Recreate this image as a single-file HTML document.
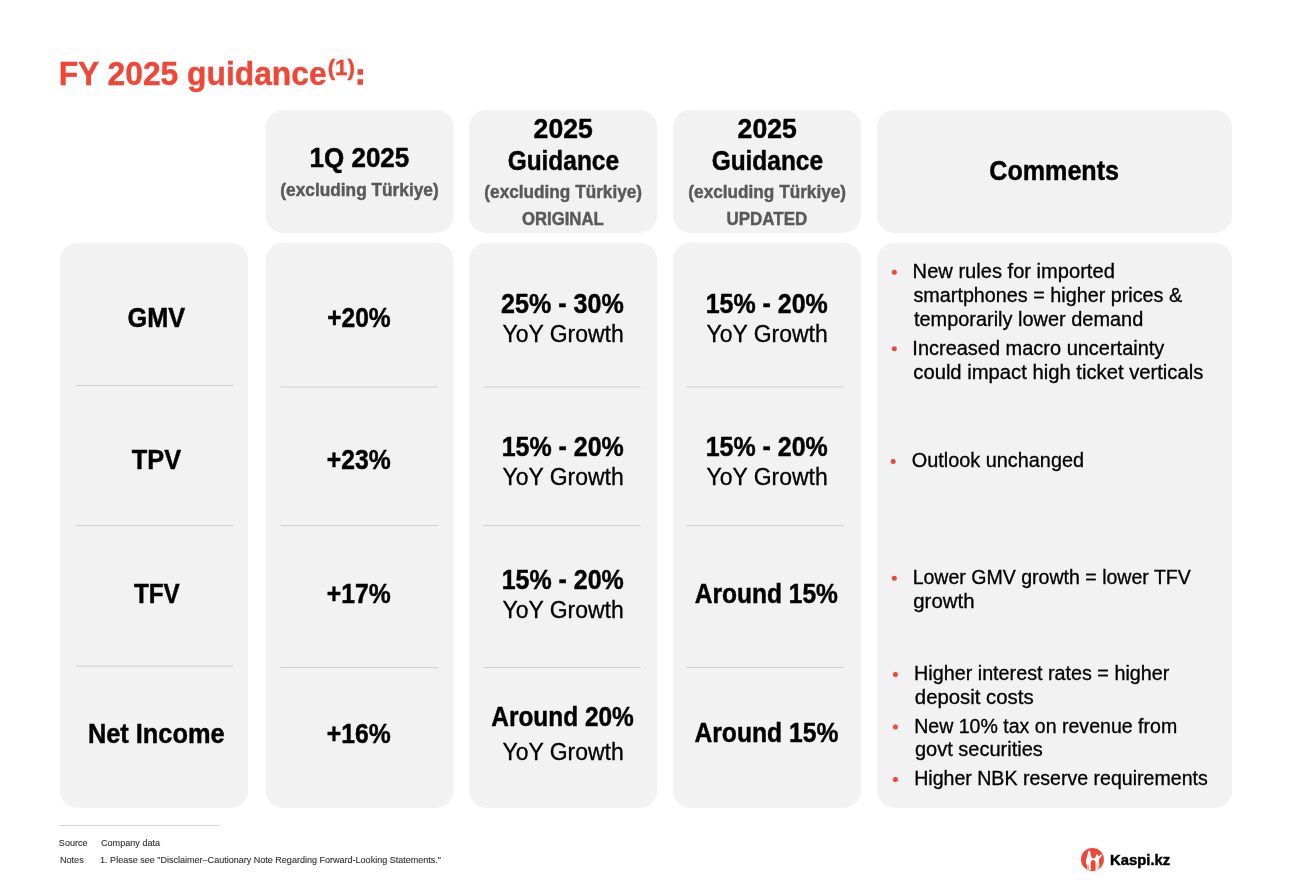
<!DOCTYPE html>
<html><head><meta charset="utf-8"><title>FY 2025 guidance</title>
<style>
html,body{margin:0;padding:0;background:#fff;}
body{width:1296px;height:895px;position:relative;overflow:hidden;font-family:"Liberation Sans",sans-serif;color:#000;}
svg.tx{position:absolute;left:0;top:0;}
svg.tx text{font-family:"Liberation Sans",sans-serif;white-space:pre;}
</style></head><body>
<svg class="tx" width="1296" height="895" viewBox="0 0 1296 895">
<rect x="265.6" y="109.8" width="188.0" height="123.1" rx="17.5" fill="#f2f2f2"/>
<rect x="469.0" y="109.8" width="188.2" height="123.1" rx="17.5" fill="#f2f2f2"/>
<rect x="673.0" y="109.8" width="188.2" height="123.1" rx="17.5" fill="#f2f2f2"/>
<rect x="876.8" y="109.8" width="355.3" height="123.1" rx="17.5" fill="#f2f2f2"/>
<rect x="59.9" y="242.8" width="188.2" height="565.1" rx="17.5" fill="#f2f2f2"/>
<rect x="265.6" y="242.8" width="188.0" height="565.1" rx="17.5" fill="#f2f2f2"/>
<rect x="469.0" y="242.8" width="188.2" height="565.1" rx="17.5" fill="#f2f2f2"/>
<rect x="673.0" y="242.8" width="188.2" height="565.1" rx="17.5" fill="#f2f2f2"/>
<rect x="876.8" y="242.8" width="355.3" height="565.1" rx="17.5" fill="#f2f2f2"/>
<rect x="75.7" y="385" width="157.5" height="1" fill="#d0d0d0"/>
<rect x="75.7" y="525" width="157.5" height="1" fill="#d0d0d0"/>
<rect x="75.7" y="665.6" width="157.5" height="1" fill="#d0d0d0"/>
<rect x="280.8" y="386.6" width="157.2" height="1" fill="#d0d0d0"/>
<rect x="280.8" y="525" width="157.2" height="1" fill="#d0d0d0"/>
<rect x="280.8" y="667" width="157.2" height="1" fill="#d0d0d0"/>
<rect x="483.2" y="386.5" width="157.6" height="1" fill="#d0d0d0"/>
<rect x="483.2" y="525" width="157.6" height="1" fill="#d0d0d0"/>
<rect x="483.2" y="667" width="157.6" height="1" fill="#d0d0d0"/>
<rect x="686.1" y="386.5" width="157.7" height="1" fill="#d0d0d0"/>
<rect x="686.1" y="525" width="157.7" height="1" fill="#d0d0d0"/>
<rect x="686.1" y="667" width="157.7" height="1" fill="#d0d0d0"/>
<rect x="59.2" y="825" width="160.8" height="1" fill="#d9d9d9"/>
<circle cx="894.3" cy="272.2" r="2.5" fill="#f04635"/>
<circle cx="894.3" cy="348.8" r="2.5" fill="#f04635"/>
<circle cx="893.2" cy="461.4" r="2.5" fill="#f04635"/>
<circle cx="894.3" cy="578.2" r="2.5" fill="#f04635"/>
<circle cx="895.4" cy="674.4" r="2.5" fill="#f04635"/>
<circle cx="895.4" cy="726.9" r="2.5" fill="#f04635"/>
<circle cx="895.4" cy="779.4" r="2.5" fill="#f04635"/>
</svg>
<svg class="tx" width="1296" height="895" viewBox="0 0 1296 895">
<text id="title" fill="#f04635" stroke="#f04635" stroke-width="0.4" font-weight="bold" font-size="34"><tspan x="58.70" y="84.8" textLength="267.90" lengthAdjust="spacingAndGlyphs">FY 2025 guidance</tspan><tspan x="327.70" y="74.7" font-size="22.3" textLength="27.29" lengthAdjust="spacingAndGlyphs">(1)</tspan><tspan x="355.64" y="83.5" font-size="27" stroke-width="1.7">:</tspan></text>
<text x="309.55" y="167.0" font-size="27.5" font-weight="bold" fill="#000" stroke="#000" stroke-width="0.45" textLength="99.72" lengthAdjust="spacingAndGlyphs">1Q 2025</text>
<text x="280.34" y="195.8" font-size="18.6" font-weight="bold" fill="#595959" stroke="#595959" stroke-width="0.45" textLength="158.39" lengthAdjust="spacingAndGlyphs">(excluding Türkiye)</text>
<text x="533.62" y="138.0" font-size="27.5" font-weight="bold" fill="#000" stroke="#000" stroke-width="0.45" textLength="59.12" lengthAdjust="spacingAndGlyphs">2025</text>
<text x="507.63" y="169.7" font-size="27.5" font-weight="bold" fill="#000" stroke="#000" stroke-width="0.45" textLength="111.40" lengthAdjust="spacingAndGlyphs">Guidance</text>
<text x="484.34" y="198.4" font-size="18.6" font-weight="bold" fill="#595959" stroke="#595959" stroke-width="0.45" textLength="157.74" lengthAdjust="spacingAndGlyphs">(excluding Türkiye)</text>
<text x="522.01" y="224.8" font-size="18.6" font-weight="bold" fill="#595959" stroke="#595959" stroke-width="0.45" textLength="81.74" lengthAdjust="spacingAndGlyphs">ORIGINAL</text>
<text x="737.62" y="138.0" font-size="27.5" font-weight="bold" fill="#000" stroke="#000" stroke-width="0.45" textLength="59.12" lengthAdjust="spacingAndGlyphs">2025</text>
<text x="711.63" y="169.7" font-size="27.5" font-weight="bold" fill="#000" stroke="#000" stroke-width="0.45" textLength="111.40" lengthAdjust="spacingAndGlyphs">Guidance</text>
<text x="688.34" y="198.4" font-size="18.6" font-weight="bold" fill="#595959" stroke="#595959" stroke-width="0.45" textLength="157.74" lengthAdjust="spacingAndGlyphs">(excluding Türkiye)</text>
<text x="726.60" y="224.8" font-size="18.6" font-weight="bold" fill="#595959" stroke="#595959" stroke-width="0.45" textLength="80.61" lengthAdjust="spacingAndGlyphs">UPDATED</text>
<text x="989.32" y="180.1" font-size="27.5" font-weight="bold" fill="#000" stroke="#000" stroke-width="0.45" textLength="129.71" lengthAdjust="spacingAndGlyphs">Comments</text>
<text x="127.55" y="327.0" font-size="27.5" font-weight="bold" fill="#000" stroke="#000" stroke-width="0.45" textLength="57.67" lengthAdjust="spacingAndGlyphs">GMV</text>
<text x="131.87" y="469.0" font-size="27.5" font-weight="bold" fill="#000" stroke="#000" stroke-width="0.45" textLength="49.23" lengthAdjust="spacingAndGlyphs">TPV</text>
<text x="133.95" y="602.6" font-size="27.5" font-weight="bold" fill="#000" stroke="#000" stroke-width="0.45" textLength="45.83" lengthAdjust="spacingAndGlyphs">TFV</text>
<text x="87.88" y="743.2" font-size="27.5" font-weight="bold" fill="#000" stroke="#000" stroke-width="0.45" textLength="136.71" lengthAdjust="spacingAndGlyphs">Net Income</text>
<text x="327.13" y="327.4" font-size="27.5" font-weight="bold" fill="#000" stroke="#000" stroke-width="0.45" textLength="63.56" lengthAdjust="spacingAndGlyphs">+20%</text>
<text x="326.75" y="469.0" font-size="27.5" font-weight="bold" fill="#000" stroke="#000" stroke-width="0.45" textLength="63.89" lengthAdjust="spacingAndGlyphs">+23%</text>
<text x="326.75" y="603.0" font-size="27.5" font-weight="bold" fill="#000" stroke="#000" stroke-width="0.45" textLength="63.89" lengthAdjust="spacingAndGlyphs">+17%</text>
<text x="326.75" y="743.2" font-size="27.5" font-weight="bold" fill="#000" stroke="#000" stroke-width="0.45" textLength="63.89" lengthAdjust="spacingAndGlyphs">+16%</text>
<text x="501.00" y="313.2" font-size="27.5" font-weight="bold" fill="#000" stroke="#000" stroke-width="0.45" textLength="122.73" lengthAdjust="spacingAndGlyphs">25% - 30%</text>
<text x="502.45" y="341.7" font-size="23.5" font-weight="normal" fill="#000" stroke="#000" stroke-width="0.3" textLength="121.22" lengthAdjust="spacingAndGlyphs">YoY Growth</text>
<text x="501.68" y="456.3" font-size="27.5" font-weight="bold" fill="#000" stroke="#000" stroke-width="0.45" textLength="122.15" lengthAdjust="spacingAndGlyphs">15% - 20%</text>
<text x="502.45" y="484.8" font-size="23.5" font-weight="normal" fill="#000" stroke="#000" stroke-width="0.3" textLength="121.22" lengthAdjust="spacingAndGlyphs">YoY Growth</text>
<text x="501.68" y="589.2" font-size="27.5" font-weight="bold" fill="#000" stroke="#000" stroke-width="0.45" textLength="122.15" lengthAdjust="spacingAndGlyphs">15% - 20%</text>
<text x="502.45" y="617.7" font-size="23.5" font-weight="normal" fill="#000" stroke="#000" stroke-width="0.3" textLength="121.22" lengthAdjust="spacingAndGlyphs">YoY Growth</text>
<text x="491.24" y="726.0" font-size="27.5" font-weight="bold" fill="#000" stroke="#000" stroke-width="0.45" textLength="142.63" lengthAdjust="spacingAndGlyphs">Around 20%</text>
<text x="502.45" y="760.2" font-size="23.5" font-weight="normal" fill="#000" stroke="#000" stroke-width="0.3" textLength="121.22" lengthAdjust="spacingAndGlyphs">YoY Growth</text>
<text x="705.68" y="313.2" font-size="27.5" font-weight="bold" fill="#000" stroke="#000" stroke-width="0.45" textLength="122.15" lengthAdjust="spacingAndGlyphs">15% - 20%</text>
<text x="706.45" y="341.7" font-size="23.5" font-weight="normal" fill="#000" stroke="#000" stroke-width="0.3" textLength="121.22" lengthAdjust="spacingAndGlyphs">YoY Growth</text>
<text x="705.68" y="456.3" font-size="27.5" font-weight="bold" fill="#000" stroke="#000" stroke-width="0.45" textLength="122.15" lengthAdjust="spacingAndGlyphs">15% - 20%</text>
<text x="706.45" y="484.8" font-size="23.5" font-weight="normal" fill="#000" stroke="#000" stroke-width="0.3" textLength="121.22" lengthAdjust="spacingAndGlyphs">YoY Growth</text>
<text x="694.74" y="602.5" font-size="27.5" font-weight="bold" fill="#000" stroke="#000" stroke-width="0.45" textLength="143.21" lengthAdjust="spacingAndGlyphs">Around 15%</text>
<text x="694.47" y="741.5" font-size="27.5" font-weight="bold" fill="#000" stroke="#000" stroke-width="0.45" textLength="143.85" lengthAdjust="spacingAndGlyphs">Around 15%</text>
<text x="912.61" y="277.8" font-size="19.3" font-weight="normal" fill="#000" stroke="#000" stroke-width="0.3" textLength="202.20" lengthAdjust="spacingAndGlyphs">New rules for imported</text>
<text x="913.46" y="301.9" font-size="19.3" font-weight="normal" fill="#000" stroke="#000" stroke-width="0.3" textLength="268.69" lengthAdjust="spacingAndGlyphs">smartphones = higher prices &amp;</text>
<text x="913.92" y="325.8" font-size="19.3" font-weight="normal" fill="#000" stroke="#000" stroke-width="0.3" textLength="229.38" lengthAdjust="spacingAndGlyphs">temporarily lower demand</text>
<text x="912.35" y="354.7" font-size="19.3" font-weight="normal" fill="#000" stroke="#000" stroke-width="0.3" textLength="251.99" lengthAdjust="spacingAndGlyphs">Increased macro uncertainty</text>
<text x="913.27" y="378.5" font-size="19.3" font-weight="normal" fill="#000" stroke="#000" stroke-width="0.3" textLength="290.05" lengthAdjust="spacingAndGlyphs">could impact high ticket verticals</text>
<text x="911.86" y="466.9" font-size="19.3" font-weight="normal" fill="#000" stroke="#000" stroke-width="0.3" textLength="172.17" lengthAdjust="spacingAndGlyphs">Outlook unchanged</text>
<text x="912.65" y="584.2" font-size="19.3" font-weight="normal" fill="#000" stroke="#000" stroke-width="0.3" textLength="278.16" lengthAdjust="spacingAndGlyphs">Lower GMV growth = lower TFV</text>
<text x="913.28" y="607.9" font-size="19.3" font-weight="normal" fill="#000" stroke="#000" stroke-width="0.3" textLength="61.22" lengthAdjust="spacingAndGlyphs">growth</text>
<text x="914.08" y="680.0" font-size="19.3" font-weight="normal" fill="#000" stroke="#000" stroke-width="0.3" textLength="255.22" lengthAdjust="spacingAndGlyphs">Higher interest rates = higher</text>
<text x="914.82" y="703.7" font-size="19.3" font-weight="normal" fill="#000" stroke="#000" stroke-width="0.3" textLength="118.81" lengthAdjust="spacingAndGlyphs">deposit costs</text>
<text x="914.20" y="732.5" font-size="19.3" font-weight="normal" fill="#000" stroke="#000" stroke-width="0.3" textLength="262.98" lengthAdjust="spacingAndGlyphs">New 10% tax on revenue from</text>
<text x="914.92" y="756.2" font-size="19.3" font-weight="normal" fill="#000" stroke="#000" stroke-width="0.3" textLength="127.95" lengthAdjust="spacingAndGlyphs">govt securities</text>
<text x="914.18" y="785.3" font-size="19.3" font-weight="normal" fill="#000" stroke="#000" stroke-width="0.3" textLength="293.61" lengthAdjust="spacingAndGlyphs">Higher NBK reserve requirements</text>
<text x="58.86" y="846.2" font-size="9.9" font-weight="normal" fill="#303030" stroke="#303030" stroke-width="0.12" textLength="28.59" lengthAdjust="spacingAndGlyphs">Source</text>
<text x="101.03" y="846.2" font-size="9.9" font-weight="normal" fill="#303030" stroke="#303030" stroke-width="0.12" textLength="59.03" lengthAdjust="spacingAndGlyphs">Company data</text>
<text x="59.90" y="863.3" font-size="9.9" font-weight="normal" fill="#303030" stroke="#303030" stroke-width="0.12" textLength="23.84" lengthAdjust="spacingAndGlyphs">Notes</text>
<text x="100.09" y="863.3" font-size="9.9" font-weight="normal" fill="#303030" stroke="#303030" stroke-width="0.12" textLength="340.98" lengthAdjust="spacingAndGlyphs">1. Please see "Disclaimer–Cautionary Note Regarding Forward-Looking Statements."</text>
<text x="1110.01" y="864.8" font-size="15.5" font-weight="bold" fill="#000" stroke="#000" stroke-width="0.45" textLength="60.18" lengthAdjust="spacingAndGlyphs">Kaspi.kz</text>
</svg>
<svg id="logo" style="position:absolute;left:1081.2px;top:847.9px;" width="22.9" height="22.9" viewBox="100 90 707 707">
<circle cx="453.5" cy="443.5" r="353.5" fill="#f04635"/>
<path fill="#fff" d="M345 178 C365 170 385 180 387 200 L392 260 L402 325 C420 380 450 412 482 414 C520 410 548 380 560 340 L572 302 C585 282 615 282 628 305 L640 335 L655 345 L700 308 L738 285 L758 308 L705 378 L662 432 L655 520 L668 600 L655 700 L640 738 L600 762 L552 775 L548 520 C540 480 505 458 472 458 C430 460 402 490 400 530 L400 772 L345 776 L300 760 L290 640 L255 560 C245 520 248 490 262 440 L300 290 L320 215 Z"/>
<path stroke="#f04635" stroke-width="21" stroke-linecap="round" fill="none" d="M321 632 L323 768 M617 628 L628 730"/>
</svg>
</body></html>
